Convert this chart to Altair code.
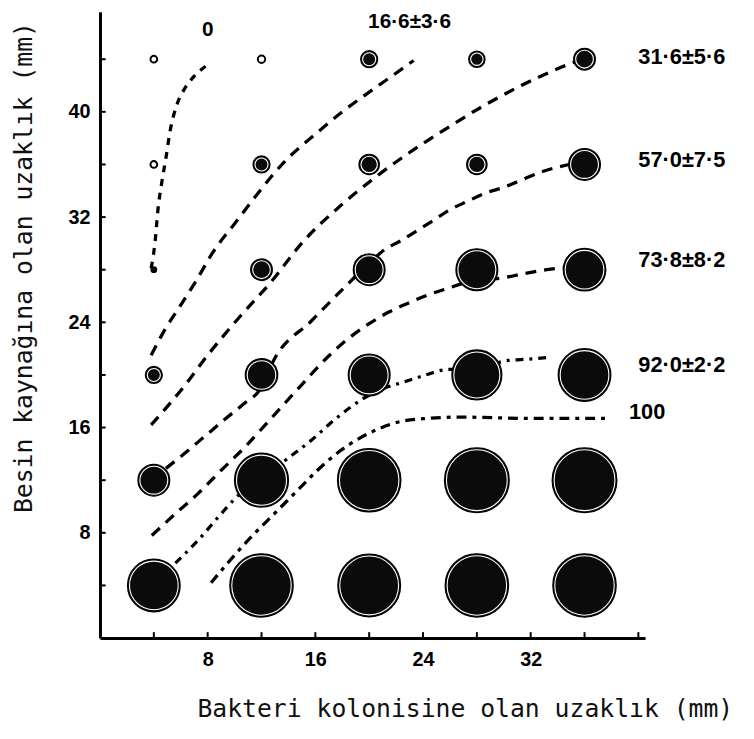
import altair as alt
import pandas as pd

# ---------------- data ----------------
col_x = [4, 12, 20, 28, 36]
row_y = [44, 36, 28, 20, 12, 4]
# colony diameters (mm) per row (top row first), per column
diam = [
    [0.5, 0.55, 1.25, 1.2, 1.6],
    [0.5, 1.25, 1.5, 1.5, 2.35],
    [0.4, 1.6, 2.35, 3.1, 3.15],
    [1.25, 2.4, 3.1, 3.7, 3.9],
    [2.35, 4.0, 4.7, 4.8, 4.8],
    [3.9, 4.7, 4.65, 4.7, 4.7],
]

curve_names = ["0", "16·6±3·6", "31·6±5·6", "57·0±7·5", "73·8±8·2", "92·0±2·2", "100"]
c0_x = [3.8, 4.1, 4.3, 4.6, 4.9, 5.2, 5.7, 6.25, 6.9, 7.9]
c0_y = [28.1, 30.2, 32.5, 34.7, 36.5, 38.5, 40.5, 41.7, 42.6, 43.5]
c1_x = [3.8, 4.85, 5.8, 7.05, 8.5, 10.0, 11.5, 13.7, 16.0, 18.0, 20.0, 21.8, 23.3]
c1_y = [21.5, 23.5, 25.0, 27.0, 29.5, 31.5, 33.5, 36.2, 38.3, 40.0, 41.5, 42.8, 43.9]
c2_x = [3.8, 6.3, 8.0, 10.45, 12.65, 15.15, 17.8, 20.3, 22.7, 25.7, 28.4, 31.3, 34.3, 35.3]
c2_y = [16.2, 19.2, 21.5, 24.5, 27.0, 30.2, 32.8, 34.9, 36.7, 38.7, 40.4, 42.0, 43.4, 43.8]
c3_x = [4.9, 6.3, 7.8, 9.3, 10.8, 11.9, 12.95, 15.7, 18.5, 19.9, 21.25, 22.35, 23.45, 24.7,
        25.9, 27.3, 28.6, 30.1, 31.5, 33.0, 34.85]
c3_y = [12.9, 14.05, 15.35, 16.65, 17.9, 18.9, 21.2, 24.1, 27.0, 28.4, 29.6, 30.2, 30.9, 31.7,
        32.5, 33.2, 33.8, 34.3, 34.9, 35.5, 36.0]
c4_x = [3.85, 5.6, 7.3, 8.95, 10.75, 12.45, 14.85, 17.05, 18.5, 20.0, 21.5, 23.0, 24.4, 25.9,
        27.1, 30.05, 31.5, 33.2, 34.85]
c4_y = [7.8, 9.45, 11.0, 12.7, 14.5, 16.4, 19.1, 21.5, 22.8, 23.9, 24.8, 25.5, 26.1, 26.6,
        27.0, 27.4, 27.7, 28.0, 28.2]
c5_x = [5.6, 7.3, 8.75, 10.45, 12.1, 13.7, 15.6, 17.55, 19.55, 21.0, 22.7, 24.2, 25.65, 28.0,
        30.3, 31.8, 33.5]
c5_y = [5.7, 7.45, 9.15, 11.0, 12.0, 13.45, 14.95, 16.7, 18.2, 18.95, 19.5, 20.0, 20.4, 20.5,
        21.1, 21.2, 21.35]
c6_x = [8.25, 9.7, 11.2, 12.95, 14.65, 16.1, 17.8, 19.3, 20.7, 22.5, 24.4, 26.6, 31.8, 37.9]
c6_y = [4.2, 5.95, 7.65, 9.45, 11.2, 12.7, 14.2, 15.2, 15.9, 16.5, 16.7, 16.8, 16.7, 16.7]
curves_x = [c0_x, c1_x, c2_x, c3_x, c4_x, c5_x, c6_x]
curves_y = [c0_y, c1_y, c2_y, c3_y, c4_y, c5_y, c6_y]

top_labels = ["0", "16·6±3·6"]
top_lx = [8.0, 23.0]
top_ly = [46.2, 46.8]
right_labels = ["31·6±5·6", "57·0±7·5", "73·8±8·2", "92·0±2·2", "100"]
right_lx = [40.0, 40.0, 40.0, 40.0, 39.3]
right_ly = [44.2, 36.3, 28.7, 20.75, 17.2]

x_ticks = [4, 8, 12, 16, 20, 24, 28, 32, 36, 40]
y_ticks = [4, 8, 12, 16, 20, 24, 28, 32, 36, 40, 44]
x_labels = [8, 16, 24, 32]
y_labels = [8, 16, 24, 32, 40]

x_title = "Bakteri kolonisine olan uzaklık (mm)"
y_title = "Besin kaynağına olan uzaklık (mm)"

# ---------------- tables ----------------
colonies = pd.DataFrame(
    [{"cx": cx, "cy": ry, "d": diam[r][c]}
     for r, ry in enumerate(row_y) for c, cx in enumerate(col_x)]
)
curves = pd.DataFrame(
    [{"curve": curve_names[k], "i": i, "x": xv, "y": yv}
     for k in range(len(curve_names))
     for i, (xv, yv) in enumerate(zip(curves_x[k], curves_y[k]))]
)
top_df = pd.DataFrame({"label": top_labels, "lx": top_lx, "ly": top_ly})
right_df = pd.DataFrame({"label": right_labels, "lx": right_lx, "ly": right_ly})
xt_df = pd.DataFrame({"t": x_ticks})
yt_df = pd.DataFrame({"t": y_ticks})

# ---------------- scales / axes ----------------
xs = alt.Scale(domain=[0, 40.5], nice=False, zero=False)
ys = alt.Scale(domain=[0, 47.6], nice=False, zero=False)
size_scale = alt.Scale(type="pow", exponent=2, domain=[0, 5], range=[0, 4624])

x_axis = alt.Axis(
    values=x_labels, title=x_title, ticks=False, tickSize=0, grid=False,
    domainColor="black", domainWidth=3,
    labelFont="Liberation Sans", labelFontWeight="bold", labelFontSize=20,
    labelColor="black", labelPadding=12,
    titleFont="DejaVu Sans Mono", titleFontWeight="normal", titleFontSize=25,
    titleColor="#111", titleX=98, titleY=79, titleAlign="left",
    titleBaseline="alphabetic",
)
y_axis = alt.Axis(
    values=y_labels, title=y_title, ticks=False, tickSize=0, grid=False,
    domainColor="black", domainWidth=3,
    labelFont="Liberation Sans", labelFontWeight="bold", labelFontSize=20,
    labelColor="black", labelPadding=10,
    titleFont="DejaVu Sans Mono", titleFontWeight="normal", titleFontSize=25,
    titleColor="#111", titleX=-77, titleY=258, titleAngle=270,
    titleAlign="center", titleBaseline="middle",
)

def X(field):
    return alt.X(field, type="quantitative", scale=xs, axis=x_axis)

def Y(field):
    return alt.Y(field, type="quantitative", scale=ys, axis=y_axis)

dash_patterns = [[7, 7], [11, 8], [11, 8], [11, 8], [11, 8], [8, 6, 3, 6], [10, 6, 4, 6]]

lines = alt.Chart(curves).mark_line(
    color="black", strokeWidth=3.3, interpolate="monotone"
).encode(
    x=X("x"), y=Y("y"),
    strokeDash=alt.StrokeDash("curve:N", scale=alt.Scale(domain=curve_names, range=dash_patterns), legend=None),
    order="i:Q",
)

open_cond = "datum.d > 0.42 && datum.d < 0.7"
dots = alt.Chart(colonies).mark_circle(opacity=1, stroke="black").encode(
    x=X("cx"), y=Y("cy"),
    size=alt.Size("d:Q", scale=size_scale, legend=None),
    fill=alt.condition(open_cond, alt.value("white"), alt.value("#0b0b0b")),
    strokeWidth=alt.condition(open_cond, alt.value(2), alt.value(1.4)),
)

rings = alt.Chart(colonies).transform_filter("datum.d >= 1").transform_calculate(
    di="datum.d - 0.28"
).mark_point(shape="circle", filled=False, opacity=1, stroke="white", strokeWidth=1.1).encode(
    x=X("cx"), y=Y("cy"),
    size=alt.Size("di:Q", scale=size_scale, legend=None),
)

xticks = alt.Chart(xt_df).mark_rule(color="black", strokeWidth=2).encode(
    x=X("t"), y=alt.datum(0), y2=alt.datum(0.45)
)
yticks = alt.Chart(yt_df).mark_rule(color="black", strokeWidth=2).encode(
    y=Y("t"), x=alt.datum(0), x2=alt.datum(0.42)
)

top_text = alt.Chart(top_df).mark_text(
    font="Liberation Sans", fontWeight="bold", fontSize=21, color="black",
    align="center", baseline="middle"
).encode(x=X("lx"), y=Y("ly"), text="label:N")

right_text = alt.Chart(right_df).mark_text(
    font="Liberation Sans", fontWeight="bold", fontSize=22, color="black",
    align="left", baseline="middle"
).encode(x=X("lx"), y=Y("ly"), text="label:N")

chart = alt.layer(lines, dots, rings, xticks, yticks, top_text, right_text).properties(
    width=551, height=633,
    padding={"left": 93, "top": 0, "right": 102, "bottom": 85},
    autosize=alt.AutoSizeParams(type="none"),
    background="white",
).configure_view(stroke=None)

chart.save("out.html", embed_options={"renderer": "svg", "actions": False})
